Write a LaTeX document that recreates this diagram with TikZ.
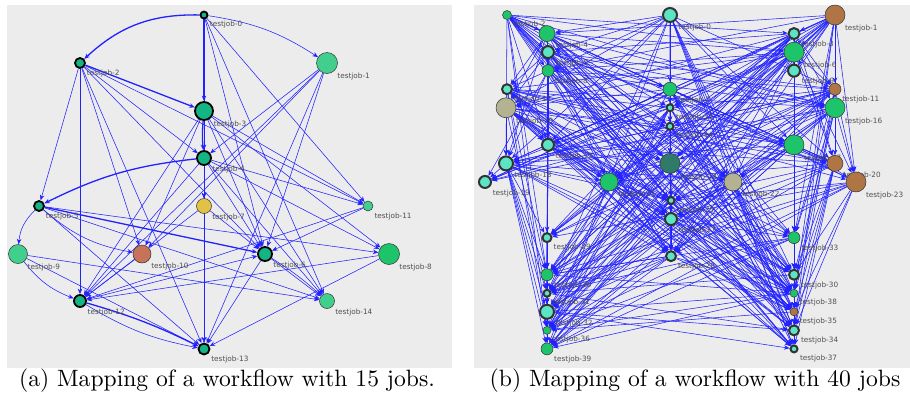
\documentclass[tikz,border=0pt]{standalone}
\usepackage{fontspec}
\usetikzlibrary{arrows.meta}
\newfontfamily\lblfont{DejaVu Sans}

\definecolor{panelgrey}{HTML}{ECECEC}
\definecolor{edgeblue}{HTML}{2222FF}
\definecolor{jobteal}{HTML}{14B585}
\definecolor{jobaqua}{HTML}{5CE5C4}
\definecolor{joblight}{HTML}{42CF8E}
\definecolor{jobgreen}{HTML}{1EC46A}
\definecolor{jobyellow}{HTML}{E2C246}
\definecolor{jobred}{HTML}{C7735B}
\definecolor{jobbrown}{HTML}{B07545}
\definecolor{jobgrey}{HTML}{B3B394}
\definecolor{jobdark}{HTML}{2F7A68}
\definecolor{lblgrey}{HTML}{505050}

\pgfdeclarelayer{back}
\pgfdeclarelayer{edges}
\pgfsetlayers{back,edges,main}

\tikzset{
  job/.style={circle, draw=black!80, line width=0.5pt, inner sep=0pt},
  jobk/.style={job, draw=black, line width=1.8pt, fill=jobteal},
  lbl/.style={font=\lblfont\fontsize{7.3}{8}\selectfont, text=lblgrey, inner sep=0.5pt, anchor=north west},
  every label/.style={lbl},
  label distance=3pt,
  jobedge/.style={draw=edgeblue, line width=0.55pt, -{Stealth[length=5.5pt,width=4.5pt]}},
  bigedge/.style={jobedge, line width=1.3pt},
  captxt/.style={anchor=base, inner sep=0pt},
}

% number / x / row / fill / border / size
\def\bjobs{0/670/0/jobaqua/2/14, 1/835/0/jobbrown/0.5/20, 2/507/0/jobgreen/0.5/9,
  3/794/1/jobaqua/2/11, 4/547/1/jobgreen/0.5/16, 5/548/2/jobaqua/2/12,
  6/794/2/jobgreen/0.5/20, 8/548/3/jobgreen/0.5/12, 9/794/3/jobaqua/2/12,
  12/507/4/jobaqua/2/10, 7/670/4/jobgreen/0.5/14, 11/835/4/jobbrown/0.5/12,
  10/506/5/jobgrey/0.5/20, 13/670/5/jobaqua/2/7, 16/835/5/jobgreen/0.5/20,
  14/670/6/jobaqua/2/7, 15/548/7/jobaqua/2/12, 17/794/7/jobgreen/0.5/20,
  24/670/8/jobdark/0.5/20, 18/506/8/jobaqua/2/14, 20/835/8/jobbrown/0.5/16,
  19/485/9/jobaqua/2/12, 21/609/9/jobgreen/0.5/18, 22/733/9/jobgrey/0.5/18,
  23/856/9/jobbrown/0.5/20, 25/671/10/jobaqua/2/7, 27/671/11/jobaqua/2/12,
  29/547/12/jobaqua/2/9, 33/794/12/jobgreen/0.5/12, 28/671/13/jobaqua/2/10,
  26/547/14/jobgreen/0.5/12, 30/794/14/jobaqua/2/10, 31/547/15/jobaqua/2/7,
  38/794/15/jobgreen/0.5/8, 32/547/16/jobaqua/2/14, 35/794/16/jobbrown/0.5/8,
  36/547/17/jobgreen/0.5/8, 34/794/17/jobaqua/2/10, 39/547/18/jobgreen/0.5/12,
  37/794/18/jobaqua/2/7}

\begin{document}
\begin{tikzpicture}[x=1pt, y=-1pt]
  \useasboundingbox (0,0) rectangle (910,408);
  \begin{pgfonlayer}{back}
    \fill[panelgrey] (7,5) rectangle (452,368);
    \fill[panelgrey] (474,5) rectangle (910,368);
  \end{pgfonlayer}

  % (a) 15 jobs
  \node[jobk, minimum size=7pt, label=-45:testjob-0] (a0) at (204,15) {};
  \node[job, fill=joblight, minimum size=21pt, label=-45:testjob-1] (a1) at (327,63) {};
  \node[jobk, minimum size=10pt, label=-45:testjob-2] (a2) at (80,63) {};
  \node[jobk, minimum size=18pt, label=-45:testjob-3] (a3) at (204,111) {};
  \node[jobk, minimum size=14pt, label=-45:testjob-4] (a4) at (204,158) {};
  \node[jobk, minimum size=10pt, label=-45:testjob-5] (a5) at (39,206) {};
  \node[job, fill=jobyellow, minimum size=15pt, label=-45:testjob-7] (a7) at (204,206) {};
  \node[job, fill=joblight, minimum size=10pt, label=-45:testjob-11] (a11) at (368,206) {};
  \node[job, fill=joblight, minimum size=19pt, label=-45:testjob-9] (a9) at (18,254) {};
  \node[job, fill=jobred, minimum size=18pt, label=-45:testjob-10] (a10) at (142,254) {};
  \node[jobk, minimum size=14pt, label=-45:testjob-6] (a6) at (265,254) {};
  \node[job, fill=jobgreen, minimum size=21pt, label=-45:testjob-8] (a8) at (389,254) {};
  \node[jobk, minimum size=12pt, label=-45:testjob-12] (a12) at (80,301) {};
  \node[job, fill=joblight, minimum size=15pt, label=-45:testjob-14] (a14) at (327,301) {};
  \node[jobk, minimum size=11pt, label=-45:testjob-13] (a13) at (204,349) {};

  \begin{pgfonlayer}{edges}
    \foreach \s/\t in {0/4,0/7,0/6,0/11,0/14,2/4,2/5,2/12,2/10,2/6,2/13,2/11,
        1/4,1/12,1/10,1/13,1/6,3/11,3/8,3/14,3/12,3/10,3/6,4/7,4/12,4/13,4/6,
        4/14,4/8,4/11,5/8,5/14,5/13,7/13,7/12,7/6,9/14,9/13,11/12,11/6,8/12,
        8/13,6/14,6/13,10/12,12/6}
      \draw[jobedge] (a\s) -- (a\t);
    \draw[bigedge] (a0) to[bend right=22] (a2);
    \draw[bigedge] (a0) -- (a3);
    \draw[bigedge] (a2) -- (a3);
    \draw[bigedge] (a3) to[bend right=5] (a4);
    \draw[bigedge] (a4) to[bend right=10] (a5);
    \draw[bigedge] (a5) -- (a6);
    \draw[bigedge] (a12) to[bend left=5] (a13);
    \draw[jobedge] (a0) to[bend left=12] (a1);
    \draw[jobedge] (a5) to[bend right=20] (a9);
    \draw[jobedge] (a9) to[bend right=15] (a12);
    \draw[jobedge] (a5) to[bend right=15] (a10);
    \draw[jobedge] (a12) to[bend right=10] (a13);
    \draw[jobedge] (a6) to[bend left=5] (a14);
  \end{pgfonlayer}

  % (b) 40 jobs
  \foreach \n/\x/\r/\c/\w/\d in \bjobs
    \node[job, fill=\c, line width=\w pt, minimum size=\d pt, label=-45:testjob-\n] (b\n) at (\x,{15+18.55*\r}) {};

  \begin{pgfonlayer}{edges}
    \foreach \s/\xs/\rs/\cs/\ws/\ds in \bjobs {
      \foreach \t/\xt/\rt/\ct/\wt/\dt in \bjobs {
        \pgfmathtruncatemacro\pick{(\rt>\rs)&&(mod(\s*\s*7+\t*13+\s*\t*3,10)<6)}
        \ifnum\pick=1 \draw[jobedge] (b\s) -- (b\t); \fi
      }
    }
  \end{pgfonlayer}

  \node[captxt] (capa) at (227,386) {\scalebox{2.36}{(a) Mapping of a workflow with 15 jobs.}};
  \node[captxt] (capb) at (695,386) {\scalebox{2.36}{(b) Mapping of a workflow with 40 jobs}};
\end{tikzpicture}
\end{document}
